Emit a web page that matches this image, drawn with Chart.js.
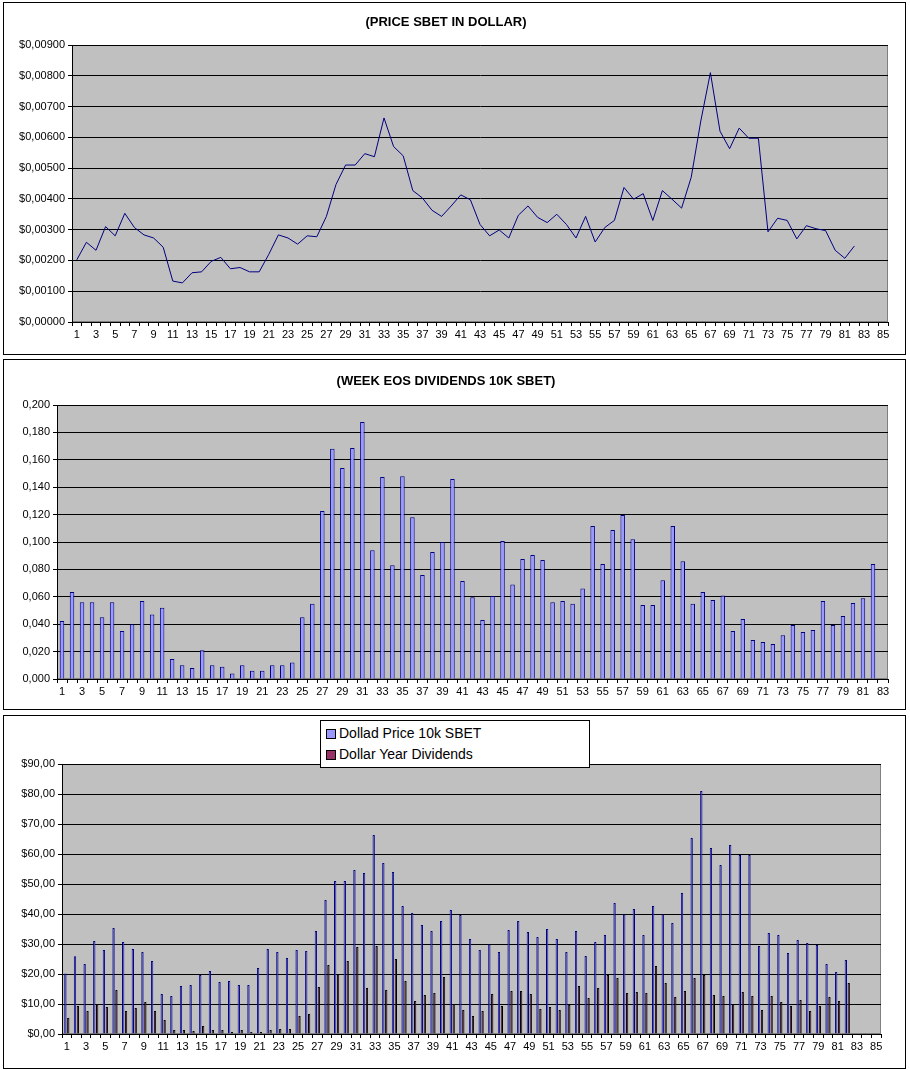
<!DOCTYPE html>
<html><head><meta charset="utf-8">
<script src="https://cdn.jsdelivr.net/npm/chart.js@4"></script>
<style>
body{margin:0;background:#fff;font-family:Arial,"Liberation Sans",sans-serif;}
.p{position:absolute;border:1px solid #000;background:#fff;}
canvas{display:block;}
#leg{position:absolute;left:320px;top:720px;width:268px;height:46px;border:1px solid #000;background:#fff;font-size:14px;z-index:2}
#leg div{height:21px;line-height:21px;padding-left:18px;position:relative}
#leg span{position:absolute;left:5px;top:6px;width:8px;height:8px;border:1px solid #000}
</style></head><body>
<div class="p" style="left:3px;top:2px;width:901px;height:351px"><canvas id="c1" width="901" height="351"></canvas></div>
<div class="p" style="left:3px;top:359px;width:901px;height:349px"><canvas id="c2" width="901" height="349"></canvas></div>
<div class="p" style="left:3px;top:715px;width:901px;height:352px"><canvas id="c3" width="901" height="352"></canvas></div>
<div id="leg"><div style="margin-top:2px"><span style="background:#9999FF"></span>Dollad Price 10k SBET</div><div><span style="background:#993366"></span>Dollar Year Dividends</div></div>
<script>
const weeks85 = Array.from({length:85},(_,i)=>String(i+1));
const weeks83 = Array.from({length:83},(_,i)=>String(i+1));
const price10k = [20.2,25.9,23.3,31,28,35.3,30.7,28.3,27.3,24.3,13.3,12.7,16,16.3,19.7,21,17.3,17.7,16.3,16.3,22,28.3,27.3,25.3,28,27.7,34.3,44.7,51,51,54.7,53.7,66.3,57,54,42.7,40.3,36.3,34.3,37.7,41.3,39.7,31.7,28,29.9,27.3,34.7,37.7,34,32.3,35,31.7,27.3,34.3,26,30.7,33,43.7,39.9,41.7,33,42.7,39.9,37,47,65.3,81,62,56.3,63,59.7,59.7,29.3,33.7,33,27,31.3,30.3,29.7,23.3,20.7,24.7];
const priceUSD = [0.00202,0.00259,0.00233,0.0031,0.0028,0.00353,0.00307,0.00283,0.00273,0.00243,0.00133,0.00127,0.0016,0.00163,0.00197,0.0021,0.00173,0.00177,0.00163,0.00163,0.0022,0.00283,0.00273,0.00253,0.0028,0.00277,0.00343,0.00447,0.0051,0.0051,0.00547,0.00537,0.00663,0.0057,0.0054,0.00427,0.00403,0.00363,0.00343,0.00377,0.00413,0.00397,0.00317,0.0028,0.00299,0.00273,0.00347,0.00377,0.0034,0.00323,0.0035,0.00317,0.00273,0.00343,0.0026,0.00307,0.0033,0.00437,0.00399,0.00417,0.0033,0.00427,0.00399,0.0037,0.0047,0.00653,0.0081,0.0062,0.00563,0.0063,0.00597,0.00597,0.00293,0.00337,0.0033,0.0027,0.00313,0.00303,0.00297,0.00233,0.00207,0.00247];
const yearDiv = [5.3,9.3,7.7,9.9,9,14.7,7.7,8.7,10.7,7.7,4.7,1.3,1.3,1,2.7,1.3,1.3,0.7,1.3,0.7,0.7,1.3,1.7,1.7,6,6.7,15.7,23,19.9,24.3,29,15.3,29.3,14.7,25,17.7,11,13,13.7,19,9.9,8,6,7.7,13.3,9.3,14.3,14.3,13.3,8.3,9,8,9.7,16,12,15.3,19.7,18.7,13.7,14,13.7,22.7,17,12.3,14.3,18.7,19.7,13,12.7,9.9,14,12.7,8,12.7,10.7,9.3,11.3,7.7,9.3,12.3,11,17];
const weekEOS = [0.0423,0.0635,0.056,0.056,0.045,0.056,0.035,0.040,0.057,0.047,0.052,0.0146,0.010,0.008,0.021,0.010,0.009,0.004,0.010,0.006,0.006,0.010,0.010,0.012,0.045,0.055,0.1226,0.168,0.154,0.1686,0.1876,0.094,0.1474,0.083,0.148,0.118,0.076,0.0927,0.100,0.146,0.0715,0.0596,0.043,0.0606,0.1007,0.069,0.0876,0.0905,0.0869,0.056,0.057,0.055,0.066,0.1117,0.084,0.1088,0.1197,0.102,0.054,0.054,0.072,0.1117,0.086,0.055,0.0635,0.0577,0.061,0.035,0.0438,0.0285,0.027,0.0255,0.032,0.0394,0.0343,0.0358,0.057,0.0394,0.046,0.0555,0.059,0.084];

const bg = {id:'bg',beforeDraw(c){const a=c.chartArea,x=c.ctx;x.save();x.fillStyle='#C0C0C0';x.fillRect(a.left,a.top,a.width,a.height);x.strokeStyle='#808080';x.lineWidth=1;x.strokeRect(a.left+0.5,a.top+0.5,a.width-1,a.height-1);x.restore();}};
Chart.defaults.font.family='Arial, "Liberation Sans", sans-serif';
Chart.defaults.color='#000';
Chart.defaults.animation=false;
function comma(v,d){return v.toFixed(d).replace('.',',');}
function xAxis(h){return {offset:true,grid:{display:true,drawOnChartArea:false,color:'#000',tickLength:4,offset:true},border:{color:'#000'},
  ticks:{autoSkip:false,maxRotation:0,font:{size:11},padding:2,callback:function(v,i){return i%2===0?this.getLabelForValue(v):'';}},afterFit(s){s.height=h;}};}
function yAxis(w,max,step,fmt){return {min:0,max:max,grid:{color:'#000',lineWidth:1,tickLength:4,drawTicks:true},border:{color:'#000'},
  ticks:{stepSize:step,font:{size:11},padding:3,callback:fmt},afterFit(s){s.width=w;}};}
function ttl(t){return {display:true,text:t,font:{size:13,weight:'bold'},padding:{top:12,bottom:14.4},color:'#000'};}

new Chart('c1',{type:'line',data:{labels:weeks85,datasets:[{data:priceUSD,borderColor:'#000080',borderWidth:1,pointRadius:0,tension:0}]},
 options:{responsive:false,plugins:{legend:{display:false},title:ttl('(PRICE SBET IN DOLLAR)'),tooltip:{enabled:false}},
 layout:{padding:{right:17,bottom:0}},scales:{x:xAxis(32),y:yAxis(68,0.009,0.001,v=>'$'+comma(v,5))}},plugins:[bg]});

new Chart('c2',{type:'bar',data:{labels:weeks83,datasets:[{data:weekEOS,backgroundColor:'#9999FF',borderColor:'#000080',borderWidth:1,barPercentage:0.45,categoryPercentage:1}]},
 options:{responsive:false,plugins:{legend:{display:false},title:{...ttl('(WEEK EOS DIVIDENDS 10K SBET)'),padding:{top:14,bottom:15.4}},tooltip:{enabled:false}},
 layout:{padding:{right:17}},scales:{x:xAxis(30),y:yAxis(53,0.2,0.02,v=>comma(v,3))}},plugins:[bg]});

new Chart('c3',{type:'bar',data:{labels:weeks85,datasets:[
 {label:'Dollad Price 10k SBET',data:price10k,backgroundColor:'#9999FF',borderColor:'#000080',borderWidth:1,barPercentage:0.8,categoryPercentage:0.6},
 {label:'Dollar Year Dividends',data:yearDiv,backgroundColor:'#993366',borderColor:'#000',borderWidth:1,barPercentage:0.8,categoryPercentage:0.6}]},
 options:{responsive:false,plugins:{legend:{display:false},tooltip:{enabled:false}},
 layout:{padding:{right:24,top:48}},scales:{x:xAxis(34),y:yAxis(58,90,10,v=>'$'+comma(v,2))}},plugins:[bg]});
</script></body></html>
